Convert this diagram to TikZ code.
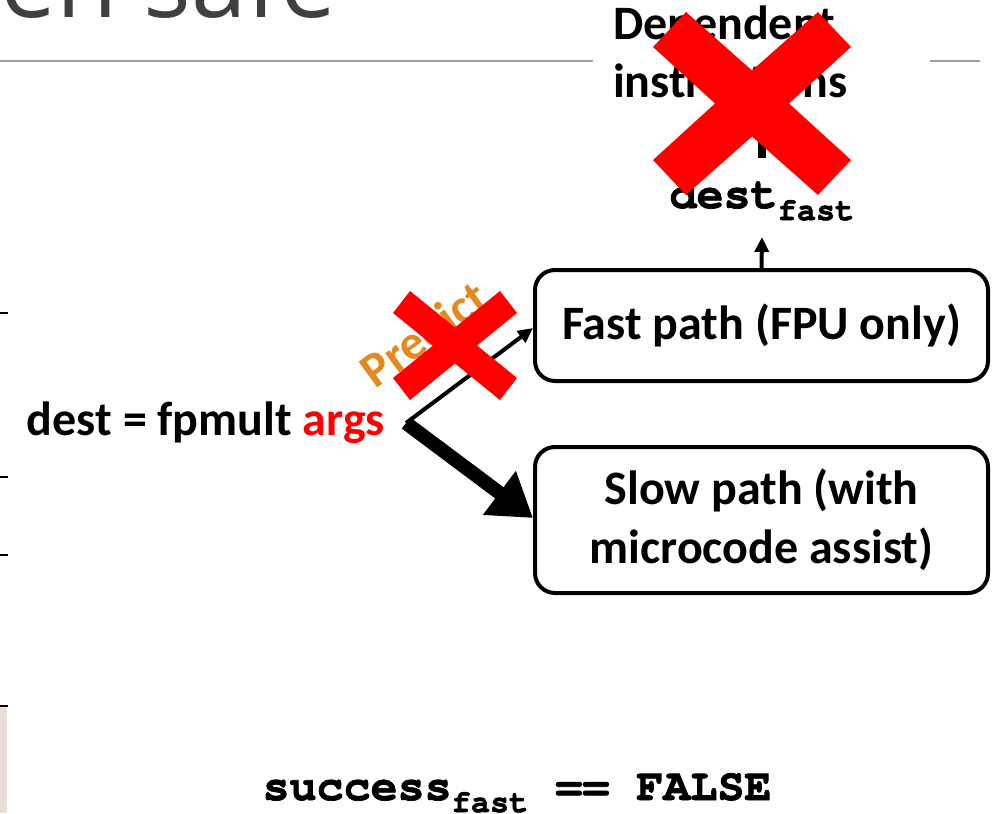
\documentclass[tikz,border=0pt]{standalone}
\usepackage{fontspec}
\setmainfont{Carlito}
\newfontfamily\monofont{texgyrecursor}[Extension=.otf, UprightFont=*-regular,
  BoldFont=*-bold, BoldFeatures={FakeBold=1.6}]
\newfontfamily\titlefont{Open Sans}
\usetikzlibrary{arrows.meta}

\definecolor{xred}{HTML}{FF0000}
\definecolor{predorange}{HTML}{E28A1E}
\definecolor{rulegray}{HTML}{A0A0A0}
\definecolor{titlegray}{HTML}{404040}
\definecolor{sidebeige}{HTML}{E8DCD5}

% a filled "multiply" cross: centre, outer arm corners, inner notches
\newcommand\redcross[8]{%
  \fill[xred, shift={(#1,#2)}]
    (-#5,-#6) -- (0,-#7) -- (#5,-#6) -- (#3,-#4) -- (#8,0) -- (#3,#4)
    -- (#5,#6) -- (0,#7) -- (-#5,#6) -- (-#3,#4) -- (-#8,0) -- (-#3,-#4) -- cycle;}

\newcommand\bigtext{\bfseries\fontsize{48}{58}\selectfont}
\newcommand\codetext{\monofont\bfseries\fontsize{45}{50}\selectfont}
\newcommand\codesub[1]{\raisebox{-12pt}{\monofont\bfseries\fontsize{32}{32}\selectfont #1}}

\begin{document}
\begin{tikzpicture}[x=1pt, y=-1pt,
  pathbox/.style={draw, line width=4pt, rounded corners=20pt, align=center,
    inner sep=0pt, font=\bigtext},
  plain/.style={inner sep=0pt, outer sep=0pt},
  thinarrow/.style={line width=4pt, -{Triangle[length=15pt, width=14pt]}},
  thickarrow/.style={line width=14pt, -{Triangle[length=42pt, width=52pt]}},
  edgemark/.style={line width=2pt, black}
]
\useasboundingbox (0,0) rectangle (992,813);

% title remnant and rule
\node[plain, anchor=base east, text=titlegray, font=\titlefont\fontsize{100}{110}\selectfont]
  (title) at (337,18) {en safe};
\draw[rulegray, line width=2pt] (0,61) -- (593,61);
\draw[rulegray, line width=2pt] (930,61) -- (980,61);

% left edge marks
\fill[sidebeige] (0,706) rectangle (7,813);
\foreach \yy in {313,477,555,706} \draw[edgemark] (0,\yy) -- (8,\yy);

% boxes
\node[pathbox, minimum width=453pt, minimum height=111pt] (fast) at (761.5,325.5)
  {Fast path (FPU only)};
\node[pathbox, minimum width=453pt, minimum height=146pt, font=\bfseries\fontsize{48}{59}\selectfont]
  (slow) at (761.5,520) {Slow path (with\\microcode assist)};

% instruction
\node[plain, anchor=base west, font=\bigtext] (instr) at (27,435)
  {dest = fpmult \textcolor{xred}{args}};
\coordinate (o) at (406,423);

% result register
\node[plain, anchor=base] (dest) at (762,208)
  {\codetext dest\codesub{fast}};

% dependent instructions (anchored at the baseline of the last line)
\node[plain, anchor=base west, align=left, font=\bigtext] (dep) at (613,98)
  {Dependent\\instructions};
\coordinate (barlow) at (762,158);
\coordinate (barhigh) at (762,120);
\draw[line width=8pt] (barlow) -- (barhigh);

% condition
\node[plain, anchor=base] (succ) at (517,800)
  {\codetext success\codesub{fast} == FALSE};

% arrows
\draw[thinarrow] (o) -- (fast.west |- 0,328);
\draw[thickarrow] (o) -- (slow.west |- 0,518);
\draw[thinarrow] (fast.north) -- (dest.north |- 0,237);

% prediction label
\node[plain, rotate=36, text=predorange, font=\bfseries\fontsize{49}{55}\selectfont]
  (pred) at (424,334) {Predict};

% crosses
\redcross{455}{345.5}{62}{32.5}{45}{54.5}{18}{22}
\redcross{752}{103.5}{99}{56.5}{66}{91.5}{33}{37}
\end{tikzpicture}
\end{document}
